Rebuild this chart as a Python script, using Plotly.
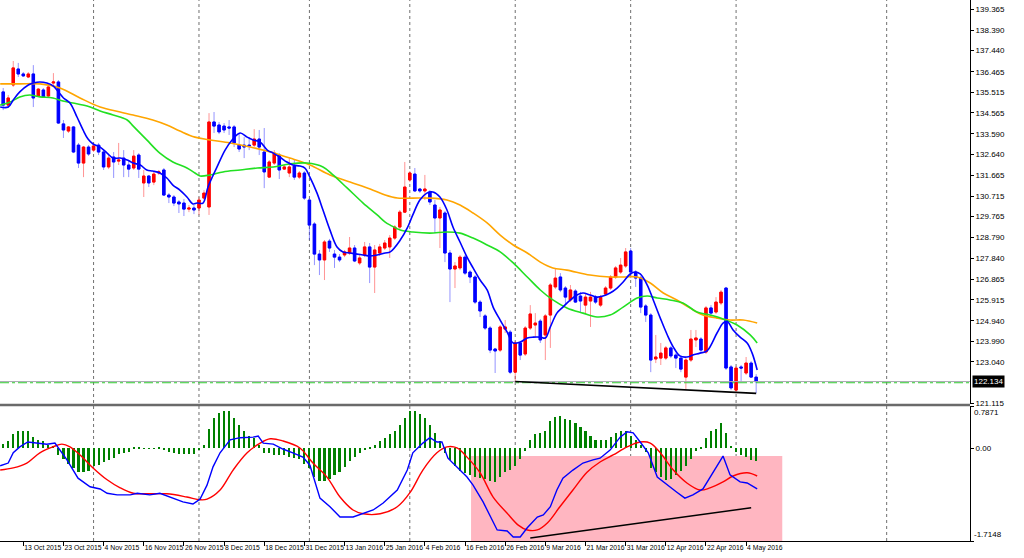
import pandas as pd
import plotly.graph_objects as go

# ---------------- categories (daily bars, EURJPY) ----------------
holidays = ["2015-12-25", "2016-01-01"]
dates = [d.strftime("%Y-%m-%d") for d in pd.bdate_range("2015-10-07", "2016-05-06")
         if d.strftime("%Y-%m-%d") not in holidays]
future = [d.strftime("%Y-%m-%d") for d in pd.bdate_range("2016-05-09", "2016-07-29")]
timeline = dates + future
bar = list(range(len(dates)))

# ---------------- OHLC ----------------
open_ = [135.53,134.92,135.85,136.59,136.36,136.22,136.36,135.34,135.62,135.34,
         135.94,135.99,134.05,133.72,133.91,133.07,132.24,132.98,132.84,133.07,
         132.75,132.06,132.52,132.33,132.47,132.15,132.01,132.61,131.32,131.64,
         131.36,131.78,131.92,130.76,130.67,130.44,130.39,130.11,130.16,130.16,
         130.62,130.21,134.14,134.00,133.95,133.91,133.91,133.07,133.07,133.07,
         133.07,133.35,132.75,131.59,132.24,132.61,131.96,131.78,132.10,131.59,
         131.78,130.53,129.42,128.03,127.76,128.63,128.03,127.89,127.99,128.08,
         128.31,127.62,127.99,128.36,127.43,128.08,128.31,128.36,128.77,129.28,
         129.97,131.46,131.73,131.04,130.95,130.90,130.30,129.70,129.93,128.08,
         127.34,127.39,127.89,127.20,126.97,125.81,125.17,124.61,123.64,123.59,
         124.56,124.42,122.57,123.92,123.41,124.61,124.75,124.93,124.29,125.21,
         126.51,126.97,126.46,125.91,126.32,126.09,125.67,125.86,126.04,125.67,
         126.18,126.46,126.97,127.20,127.48,128.17,127.20,126.92,125.63,125.21,
         123.18,123.22,123.22,123.69,123.36,123.22,122.34,123.13,124.06,124.10,
         123.50,125.54,125.35,125.77,126.46,122.81,121.74,122.81,122.53,122.99,
         122.34]
high = [135.71,135.39,136.96,136.87,136.45,136.45,136.77,135.71,135.71,135.94,
        136.40,136.08,134.23,133.95,133.95,133.17,133.03,133.07,133.17,133.17,
        132.84,132.61,132.75,133.17,132.84,132.38,132.84,132.70,131.92,131.69,
        131.87,131.92,132.01,130.85,130.76,130.53,130.58,130.30,130.30,130.67,
        130.99,134.55,134.60,134.14,134.09,134.23,134.00,133.63,133.44,133.44,
        133.81,133.77,133.86,132.38,132.84,132.70,132.15,132.47,132.38,131.87,
        131.87,130.62,129.51,128.22,128.68,128.73,128.22,128.03,128.22,128.82,
        128.45,127.99,128.59,128.54,128.45,128.50,128.68,128.91,129.37,130.07,
        132.29,131.87,132.01,131.09,131.69,130.99,130.53,130.21,130.02,128.22,
        127.66,127.99,127.99,127.29,127.06,125.91,125.26,124.70,123.69,124.75,
        124.98,124.52,124.01,124.01,124.70,125.67,125.30,125.03,125.26,126.69,
        127.34,127.15,126.55,126.60,126.41,126.28,126.18,126.28,126.14,126.14,
        126.55,127.06,127.48,127.85,128.31,128.31,127.29,127.02,125.72,125.30,
        124.29,123.92,123.78,123.78,123.45,123.32,123.22,124.52,124.52,124.19,
        125.63,125.67,126.04,126.37,126.51,122.90,122.85,122.90,123.27,123.08,
        122.48]
low = [134.69,134.79,135.76,136.22,136.22,136.17,134.83,135.29,135.25,135.29,
       135.76,134.05,133.40,133.63,132.70,132.01,131.59,132.57,132.75,132.61,
       131.92,131.96,131.55,132.15,131.59,131.59,131.92,131.55,130.67,131.13,
       131.22,131.69,130.72,130.39,130.25,129.93,129.79,129.97,129.88,129.84,
       130.53,129.84,133.63,133.58,133.63,133.54,132.98,132.75,132.47,132.84,
       132.98,132.61,131.08,131.55,132.15,131.50,131.92,131.59,131.46,131.50,
       130.53,128.68,127.52,127.06,126.83,128.13,127.39,127.66,127.89,127.99,
       127.66,127.52,127.89,126.69,126.23,127.94,128.22,127.85,128.68,129.19,
       129.93,131.36,130.90,130.86,130.53,130.30,129.00,128.31,127.66,125.81,
       126.46,127.29,127.06,126.69,125.72,125.12,124.52,123.45,122.53,123.50,
       124.38,122.48,122.14,123.13,123.32,124.52,124.19,123.92,123.13,123.69,
       126.41,126.27,125.67,125.81,125.77,125.35,125.30,124.66,125.72,125.58,
       126.09,126.37,126.88,127.11,127.39,126.92,126.51,125.30,124.89,122.57,
       122.99,122.90,123.13,123.22,122.76,122.57,121.79,123.04,123.73,123.50,
       123.41,125.21,125.26,125.67,122.67,121.74,121.60,122.11,122.44,122.30,
       121.60]
close = [134.92,135.25,136.64,136.36,136.27,136.36,135.25,135.66,135.29,135.76,
         135.99,134.09,133.77,133.91,132.75,132.24,132.98,132.66,133.03,132.75,
         132.06,132.47,132.29,132.38,132.15,131.96,132.56,131.96,131.64,131.32,
         131.73,131.83,130.76,130.67,130.39,130.35,130.11,130.16,130.07,130.53,
         130.85,134.14,133.95,133.68,133.77,133.86,133.17,132.89,132.98,133.03,
         133.35,132.98,131.83,132.29,132.70,131.92,132.06,132.06,131.59,131.78,
         130.62,129.37,128.03,127.76,128.59,128.31,127.89,127.76,128.13,128.31,
         127.71,127.85,128.36,127.43,128.22,128.36,128.54,128.77,129.28,129.97,
         131.13,131.78,130.95,130.95,131.04,130.44,129.70,130.07,128.08,127.34,
         127.48,127.89,127.15,126.97,125.81,125.40,124.61,123.59,123.55,124.66,
         124.66,122.57,123.92,123.36,124.61,125.26,124.84,124.06,125.17,126.60,
         126.92,126.37,126.04,126.37,125.81,125.86,126.04,126.04,125.81,126.04,
         126.46,126.97,127.39,127.52,128.13,127.20,126.92,125.58,125.21,123.13,
         123.27,123.45,123.69,123.32,123.22,122.71,123.13,124.10,124.15,123.59,
         125.54,125.30,125.81,126.27,122.76,121.84,122.76,122.76,122.99,122.34,
         122.13]

# ---------------- moving averages (read at bar positions) ----------------
ma_fast_bar = [-0.6,1,2,3.3,5,6,7.3,8.7,10,11,12,13.3,14.7,15.9,16.9,17.9,19.3,20.7,21.9,23.3,
               24.7,25.9,27.3,28.6,29.8,31.2,32.6,33.8,35.2,36.6,37.8,38.6,39.8,40.8,42.6,44.2,
               45.6,47.2,48.6,49.8,51.2,52.6,53.8,55.1,56.5,57.7,59.1,60.1,61.1,62.5,63.7,65.1,
               66.5,67.7,69.1,70.5,71.7,73.1,74.5,76.1,77.1,79.1,80.5,81.6,83,84.4,85.6,87,
               88.4,89.6,91,92.4,93.6,95,96.4,97.6,99,100.4,101.6,103,104.4,105.6,107,108,
               109,110.3,111.5,113,114.3,115.5,116.9,118.3,119.5,120.9,122.3,123.5,124.9,125.9,
               126.9,128.3,129.5,130.9,132.3,133.5,134.8,136.2,137.4,138.8,140.2,142.2,143.4,
               144.2,145.4,146.8,148.2,149.2,150.2]
ma_fast = [134.83,134.83,135.16,135.53,135.85,135.94,135.99,135.94,135.80,135.53,135.25,135.02,
           134.37,133.77,133.35,133.12,132.98,132.70,132.47,132.47,132.38,132.24,132.15,131.92,
           131.87,131.78,131.55,131.22,130.99,130.67,130.35,130.39,130.39,131.13,132.06,132.84,
           133.31,133.63,133.44,133.31,133.21,132.84,132.70,132.52,132.29,132.15,132.10,132.01,
           131.59,130.86,130.07,129.14,128.36,128.13,128.08,128.03,127.99,127.94,127.99,128.08,
           128.13,128.68,129.24,129.84,130.53,130.85,130.90,130.67,130.07,129.28,128.59,127.89,
           127.39,126.83,126.37,125.58,124.98,124.42,123.92,123.96,124.15,124.19,124.19,124.15,
           124.66,125.30,125.58,125.91,126.14,126.23,126.14,126.04,126.09,126.23,126.46,126.74,
           127.11,127.20,127.11,126.60,125.91,125.07,124.29,123.73,123.32,123.27,123.36,123.45,
           123.55,124.38,124.84,124.92,124.52,124.19,123.92,123.45,122.67]

ma_mid_bar = [-0.6,1.4,3.3,5.3,7.3,9.9,11.9,13.9,16.7,19.3,21.9,24.7,25.9,28.6,31.2,33.8,36.6,
              38.2,39.2,41.2,43.8,47.2,50.6,53.8,57.1,60.5,63.7,65.7,68.5,71.7,74.5,76.1,77.1,
              79.1,81.6,85,88.4,91,93.6,96.4,99,101.6,104.4,107,109.5,112.3,115.5,118.3,120.9,
              123.5,126.3,128.3,130.3,132.8,135.4,138.2,140.8,143.4,146.2,148.8,150.2]
ma_mid = [134.92,135.06,135.30,135.39,135.30,135.25,135.11,135.02,134.88,134.65,134.46,134.23,
          133.95,133.31,132.70,132.29,132.01,131.78,131.64,131.69,131.83,131.92,132.01,132.06,
          132.20,132.24,132.06,131.69,131.09,130.39,129.84,129.51,129.37,129.14,129.05,129.00,
          129.05,129.00,128.77,128.45,128.13,127.62,126.97,126.37,125.91,125.54,125.30,125.12,
          125.21,125.58,126.00,126.09,126.00,125.91,125.77,125.35,125.21,125.03,124.75,124.29,
          123.92]

ma_slow_bar = [-0.6,3.3,7.3,11.3,15.3,19.3,23.3,25.9,29.8,32.6,35.2,38.2,41.2,45.2,49.2,53.2,
               57.1,61.1,65.1,69.1,73.1,76.1,78.5,81.6,85,88.4,91,93.6,96.4,99,101.6,104.4,107,
               109.5,112.3,116.9,120.9,123.5,126.3,128.9,131.5,134.2,136.8,139.4,142.2,144.8,
               147.4,150.2]
ma_slow = [135.90,135.90,135.90,135.71,135.25,134.83,134.60,134.46,134.23,134.00,133.72,133.44,
           133.31,133.17,132.98,132.75,132.47,132.15,131.69,131.36,131.04,130.76,130.62,130.62,
           130.62,130.53,130.30,129.93,129.47,128.91,128.45,128.08,127.66,127.39,127.29,127.06,
           126.97,126.97,126.97,126.69,126.23,125.91,125.54,125.21,125.07,124.98,124.98,124.84]

# ---------------- MACD ----------------
macd_bar = [-0.6,1,2,3.3,4.9,6.7,8.7,10.3,11.3,12.7,14.9,17.3,19.3,20.7,22.7,25.3,26.7,29.2,31.2,
            33.2,35.8,37.8,39.2,40.6,41.8,43.2,45.2,47.2,49.8,50.8,51.8,53.8,55.7,57.7,59.7,61.1,
            63.1,65.1,67.1,69.7,71.7,73.7,75.7,78.5,80.5,81.6,83.6,85,86.4,87.4,88.6,90.4,92.4,
            93.6,95.6,98.4,100.4,101.6,103,104.4,106.4,107.6,109,110.3,111.5,113.5,115.5,117.5,
            118.9,120.9,122.9,124.3,125.5,126.9,128.5,130.3,132.3,134.2,135.8,137.4,139.4,141.4,
            143.4,144.8,146.8,148.2,150.2]
macd = [-0.32,-0.27,-0.08,0.03,0.12,0.10,0.08,0.10,-0.03,-0.21,-0.55,-0.71,-0.75,-0.83,-0.86,
        -0.86,-0.83,-0.86,-0.83,-0.90,-0.99,-1.03,-0.94,-0.68,-0.34,-0.08,0.16,0.20,0.21,0.23,
        0.10,0.08,-0.01,-0.08,-0.16,-0.31,-0.92,-1.08,-1.27,-1.27,-1.21,-1.14,-1.01,-0.77,-0.40,
        -0.08,0.10,0.20,0.12,0.12,-0.18,-0.34,-0.53,-0.68,-0.99,-1.51,-1.53,-1.64,-1.64,-1.47,
        -1.27,-1.23,-1.08,-0.77,-0.55,-0.40,-0.27,-0.21,-0.18,-0.03,0.21,0.31,0.29,0.12,-0.08,
        -0.53,-0.68,-0.81,-0.92,-0.86,-0.75,-0.44,-0.14,-0.49,-0.62,-0.64,-0.75]

signal_bar = [-0.6,2,4.7,7.3,9.9,11.7,13.3,15.3,17.9,20.7,23.3,25.9,28.6,32.6,36.6,39.2,40.6,
              43.2,45.8,48.6,51.2,53.2,55.7,59.1,61.7,64.5,67.1,69.7,71.7,75.1,78.5,81.1,83.6,
              86.4,88.4,90.4,92.4,95,97.6,100.4,102.6,104.4,106.4,108.4,110.9,113.5,116.3,118.9,
              121.5,124.3,126.9,128.9,130.9,133.5,136.2,138.8,140.8,143.4,145.4,148.2,150.2]
signal = [-0.40,-0.36,-0.27,-0.08,0.03,0.08,0.03,-0.12,-0.36,-0.58,-0.73,-0.83,-0.84,-0.84,
          -0.90,-0.95,-0.94,-0.77,-0.40,-0.08,0.10,0.18,0.14,0.01,-0.27,-0.53,-0.90,-1.14,-1.21,
          -1.21,-1.08,-0.81,-0.40,-0.08,0.03,0.01,-0.16,-0.45,-0.90,-1.20,-1.42,-1.51,-1.51,
          -1.38,-1.08,-0.77,-0.44,-0.25,-0.12,0.03,0.12,0.10,-0.08,-0.40,-0.64,-0.77,-0.73,
          -0.62,-0.51,-0.45,-0.51]

hist = [0.09,0.13,0.26,0.32,0.33,0.33,0.22,0.15,0.13,0.06,
        0.04,-0.13,-0.19,-0.28,-0.37,-0.44,-0.43,-0.41,-0.33,-0.30,
        -0.26,-0.22,-0.17,-0.11,-0.09,-0.06,0.01,0.01,0.005,-0.01,
        0.005,0.03,-0.03,-0.06,-0.09,-0.11,-0.11,-0.11,-0.11,-0.02,
        0.07,0.37,0.56,0.65,0.69,0.69,0.56,0.43,0.32,0.24,
        0.19,0.06,-0.09,-0.09,-0.13,-0.13,-0.13,-0.15,-0.17,-0.20,
        -0.28,-0.37,-0.52,-0.61,-0.61,-0.56,-0.50,-0.44,-0.35,-0.24,
        -0.15,-0.09,-0.02,0.02,0.06,0.13,0.20,0.26,0.33,0.43,
        0.56,0.69,0.69,0.63,0.56,0.44,0.28,0.13,-0.09,-0.22,
        -0.33,-0.41,-0.46,-0.50,-0.52,-0.54,-0.57,-0.61,-0.63,-0.52,
        -0.43,-0.39,-0.32,-0.19,-0.04,0.15,0.26,0.28,0.32,0.50,
        0.59,0.61,0.54,0.52,0.48,0.39,0.32,0.24,0.15,0.15,
        0.15,0.22,0.28,0.33,0.32,0.24,0.15,0.06,-0.06,-0.37,
        -0.43,-0.52,-0.59,-0.56,-0.50,-0.41,-0.32,-0.19,-0.04,0.02,
        0.19,0.32,0.37,0.48,0.28,0.04,-0.06,-0.13,-0.15,-0.22,
        -0.24]

# ---------------- axis labels / objects ----------------
tick_dates = ["2015-10-13","2015-10-23","2015-11-04","2015-11-16","2015-11-26","2015-12-08",
              "2015-12-18","2015-12-31","2016-01-13","2016-01-25","2016-02-04","2016-02-16",
              "2016-02-26","2016-03-09","2016-03-21","2016-03-31","2016-04-12","2016-04-22",
              "2016-05-04"]
tick_text = ["13 Oct 2015","23 Oct 2015","4 Nov 2015","16 Nov 2015","26 Nov 2015","8 Dec 2015",
             "18 Dec 2015","31 Dec 2015","13 Jan 2016","25 Jan 2016","4 Feb 2016","16 Feb 2016",
             "26 Feb 2016","9 Mar 2016","21 Mar 2016","31 Mar 2016","12 Apr 2016","22 Apr 2016",
             "4 May 2016"]
price_ticks = [139.365,138.390,137.440,136.465,135.515,134.565,133.590,132.640,131.665,130.715,
               129.765,128.790,127.840,126.865,125.915,124.940,123.990,123.040,121.115]
grid_dates = ["2015-11-02","2015-12-01","2016-01-04","2016-02-01","2016-03-01","2016-04-01",
              "2016-05-02","2016-06-13"]
last_price = 122.134
hline_level = 122.08
price_range = [121.096, 139.781]
macd_range = [-1.7148, 0.7871]
trend_price = [("2016-03-01", 122.14), ("2016-05-06", 121.59)]
trend_macd = [("2016-03-04", -1.66), ("2016-05-05", -1.10)]
zone_bars = [93.2, 155.2]
zone_top = -0.139

FONT = "Liberation Sans, Arial, sans-serif"

fig = go.Figure()

# wicks (light)
fig.add_trace(go.Candlestick(
    x=bar, open=open_, high=high, low=low, close=close, xaxis="x", yaxis="y",
    increasing=dict(line=dict(color="rgba(255,60,60,0.55)", width=1), fillcolor="rgba(255,60,60,0.55)"),
    decreasing=dict(line=dict(color="rgba(60,60,255,0.55)", width=1), fillcolor="rgba(60,60,255,0.55)"),
    hoverinfo="skip", showlegend=False))
# solid bodies
body_hi = [max(o, c) for o, c in zip(open_, close)]
body_lo = [min(o, c) for o, c in zip(open_, close)]
fig.add_trace(go.Candlestick(
    x=bar, open=open_, high=body_hi, low=body_lo, close=close, xaxis="x", yaxis="y",
    increasing=dict(line=dict(color="#FF0000", width=1), fillcolor="#FF0000"),
    decreasing=dict(line=dict(color="#0000FF", width=1), fillcolor="#0000FF"),
    hoverinfo="skip", showlegend=False))

fig.add_trace(go.Scatter(x=ma_slow_bar, y=ma_slow, mode="lines", line=dict(color="#FFA500", width=1.6, shape="spline"),
                         xaxis="x", yaxis="y", hoverinfo="skip"))
fig.add_trace(go.Scatter(x=ma_mid_bar, y=ma_mid, mode="lines", line=dict(color="#22E022", width=1.6, shape="spline"),
                         xaxis="x", yaxis="y", hoverinfo="skip"))
fig.add_trace(go.Scatter(x=ma_fast_bar, y=ma_fast, mode="lines", line=dict(color="#0000FF", width=1.6, shape="spline"),
                         xaxis="x", yaxis="y", hoverinfo="skip"))

fig.add_trace(go.Bar(x=bar, y=hist, width=0.42, marker=dict(color="#008000", line=dict(width=0)),
                     xaxis="x", yaxis="y2", hoverinfo="skip"))
fig.add_trace(go.Scatter(x=signal_bar, y=signal, mode="lines", line=dict(color="#FF0000", width=1.4, shape="spline"),
                         xaxis="x", yaxis="y2", hoverinfo="skip"))
fig.add_trace(go.Scatter(x=macd_bar, y=macd, mode="lines", line=dict(color="#0000FF", width=1.4),
                         xaxis="x", yaxis="y2", hoverinfo="skip"))

shapes = []
shapes.append(dict(type="rect", xref="x", yref="y2", x0=zone_bars[0], x1=zone_bars[1],
                   y0=macd_range[0], y1=zone_top, fillcolor="#FFB6C1", line=dict(width=0), layer="below"))
for d in grid_dates:
    xi = timeline.index(d)
    shapes.append(dict(type="line", xref="x", yref="paper", x0=xi, x1=xi, y0=0, y1=1,
                       line=dict(color="#707070", width=1, dash="dot"), layer="below"))
shapes.append(dict(type="line", xref="paper", yref="y", x0=0, x1=1, y0=last_price, y1=last_price,
                   line=dict(color="#A8A8B0", width=1)))
shapes.append(dict(type="line", xref="paper", yref="y", x0=0, x1=1, y0=hline_level, y1=hline_level,
                   line=dict(color="#32CD32", width=1, dash="dashdot")))
shapes.append(dict(type="line", xref="x", yref="y",
                   x0=timeline.index(trend_price[0][0]), y0=trend_price[0][1],
                   x1=timeline.index(trend_price[1][0]), y1=trend_price[1][1],
                   line=dict(color="black", width=1.6)))
shapes.append(dict(type="line", xref="x", yref="y2",
                   x0=timeline.index(trend_macd[0][0]), y0=trend_macd[0][1],
                   x1=timeline.index(trend_macd[1][0]), y1=trend_macd[1][1],
                   line=dict(color="black", width=1.6)))
# panel separator
shapes.append(dict(type="line", xref="paper", yref="paper", x0=0, x1=1, y0=0.2515, y1=0.2515,
                   line=dict(color="#6A6A6A", width=2.5)))

annotations = [
    dict(xref="paper", yref="y", x=1, y=last_price, xanchor="left", yanchor="middle", xshift=2,
         text=f"{last_price:.3f}", showarrow=False, bgcolor="black", font=dict(color="white", size=8, family=FONT),
         borderpad=1),
    dict(xref="paper", yref="y2", x=1, y=macd_range[1], xanchor="left", yanchor="top", xshift=2,
         text="0.7871", showarrow=False, font=dict(color="black", size=8, family=FONT)),
    dict(xref="paper", yref="y2", x=1, y=macd_range[0], xanchor="left", yanchor="bottom", xshift=2,
         text="-1.7148", showarrow=False, font=dict(color="black", size=8, family=FONT)),
]

fig.update_layout(
    width=1024, height=558, margin=dict(l=0, r=54, t=0, b=17, autoexpand=False),
    paper_bgcolor="white", plot_bgcolor="white", showlegend=False,
    font=dict(family=FONT, size=8, color="black"),
    bargap=0,
    xaxis=dict(range=[-0.64, 192.6], anchor="y2", showgrid=False, zeroline=False,
               showline=True, linecolor="black", linewidth=1, automargin=False,
               tickvals=[timeline.index(d) for d in tick_dates], ticktext=tick_text, tickangle=0,
               ticks="outside", ticklen=4, tickcolor="black", ticklabelposition="outside right",
               rangeslider=dict(visible=False), tickfont=dict(size=6.8, family=FONT)),
    yaxis=dict(domain=[0.2532, 1], range=price_range, side="right", anchor="x", automargin=False,
               tickvals=price_ticks, ticktext=[f"{v:.3f}" for v in price_ticks],
               ticks="outside", ticklen=3, tickcolor="black", showline=True, linecolor="black",
               showgrid=False, zeroline=False, tickfont=dict(size=8, family=FONT)),
    yaxis2=dict(domain=[0, 0.2495], range=macd_range, side="right", anchor="x", automargin=False,
                tickvals=[macd_range[1], 0, macd_range[0]], ticktext=["", "0.00", ""],
                ticks="outside", ticklen=3, tickcolor="black", showline=True, linecolor="black",
                showgrid=False, zeroline=False, tickfont=dict(size=8, family=FONT)),
    shapes=shapes, annotations=annotations,
)

fig.write_html("out.html",
               config={"displayModeBar": False},
               post_script="document.body.style.margin='0';document.body.style.padding='0';"
                           "document.body.style.overflow='hidden';")
